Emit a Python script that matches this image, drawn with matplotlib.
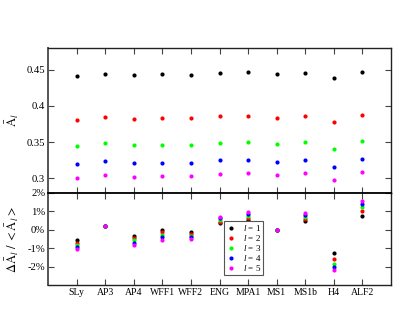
import matplotlib
matplotlib.use("Agg")
import matplotlib.pyplot as plt
from matplotlib.font_manager import FontProperties

plt.rcParams['font.family'] = ['Liberation Serif', 'DejaVu Serif']
plt.rcParams['mathtext.fontset'] = 'stix'
plt.rcParams['mathtext.rm'] = 'Liberation Serif'
plt.rcParams['mathtext.it'] = 'Liberation Serif:italic'

eos = ["SLy", "AP3", "AP4", "WFF1", "WFF2", "ENG", "MPA1", "MS1", "MS1b", "H4", "ALF2"]

# Upper panel: A_l for l = 1..5
A1 = [0.4412, 0.4444, 0.4420, 0.4435, 0.4430, 0.4454, 0.4463, 0.4435, 0.4458, 0.4379, 0.4468]
A2 = [0.3810, 0.3847, 0.3819, 0.3833, 0.3829, 0.3857, 0.3866, 0.3838, 0.3861, 0.3778, 0.3875]
A3 = [0.3444, 0.3482, 0.3454, 0.3463, 0.3463, 0.3491, 0.3500, 0.3472, 0.3500, 0.3407, 0.3514]
A4 = [0.3194, 0.3232, 0.3204, 0.3213, 0.3213, 0.3246, 0.3254, 0.3222, 0.3250, 0.3162, 0.3268]
A5 = [0.3009, 0.3051, 0.3018, 0.3028, 0.3028, 0.3065, 0.3074, 0.3046, 0.3069, 0.2977, 0.3088]

# Lower panel: relative deviation (%) for l = 1..5
D1 = [-0.57, 0.22, -0.32, -0.03, -0.14, 0.34, 0.52, 0.0, 0.47, -1.27, 0.72]
D2 = [-0.70, 0.22, -0.45, -0.15, -0.23, 0.43, 0.63, 0.0, 0.57, -1.61, 0.99]
D3 = [-0.82, 0.22, -0.57, -0.28, -0.32, 0.52, 0.75, 0.0, 0.68, -1.84, 1.20]
D4 = [-0.94, 0.22, -0.70, -0.42, -0.41, 0.61, 0.86, 0.0, 0.78, -2.02, 1.38]
D5 = [-1.05, 0.22, -0.82, -0.55, -0.50, 0.70, 0.97, 0.0, 0.88, -2.17, 1.56]

labels = [r"$l$ = 1", r"$l$ = 2", r"$l$ = 3", r"$l$ = 4", r"$l$ = 5"]
colors = ["#000000", "#ff0000", "#00ff00", "#0000ff", "#ff00ff"]

upper_ticks = [0.3, 0.35, 0.4, 0.45]
upper_ticklabels = ["0.3", "0.35", "0.4", "0.45"]
lower_ticks = [-2, -1, 0, 1, 2]
lower_ticklabels = ["-2%", "-1%", "0%", "1%", "2%"]

W, H = 415, 321
fig = plt.figure(figsize=(W / 100, H / 100), dpi=100)
L, R = 48 / W, 391 / W
top, mid, bot = 1 - 48 / H, 1 - 192.7 / H, 1 - 285 / H
ax1 = fig.add_axes([L, mid, R - L, top - mid])
ax2 = fig.add_axes([L, bot, R - L, mid - bot])

x = list(range(1, len(eos) + 1))

for vals, c in zip([A1, A2, A3, A4, A5], colors):
    ax1.plot(x, vals, linestyle="none", marker="o", ms=3.0, color=c, mec=c, mew=0)
for vals, c, lab in zip([D1, D2, D3, D4, D5], colors, labels):
    ax2.plot(x, vals, linestyle="none", marker="o", ms=3.0, color=c, mec=c, mew=0, label=lab)

for ax in (ax1, ax2):
    ax.set_xlim(0, 12)
    ax.set_xticks(x)
    ax.tick_params(direction="in", length=4, width=0.8, top=True, right=True,
                   color="#444444", pad=2)
    for s in ax.spines.values():
        s.set_linewidth(1.0)
        s.set_color("#222222")
    ax.spines['left'].set_linewidth(1.4)
    ax.spines['left'].set_color("#555555")

ax1.set_ylim(0.28, 0.48)
ax1.set_yticks(upper_ticks)
ax1.set_yticklabels(upper_ticklabels, fontsize=7.7)
ax1.tick_params(axis="x", labelbottom=False)
ax1.spines['bottom'].set_color("black")

ax2.set_ylim(-3, 2)
ax2.set_yticks(lower_ticks)
ax2.set_yticklabels(lower_ticklabels, fontsize=7.7)
ax2.set_xticklabels(eos, fontsize=7.0)
ax2.spines['top'].set_color("black")
ax2.spines['top'].set_linewidth(1.3)

fig.text(12 / W, 1 - 120 / H, r"$\bar{\mathrm{A}}_l$", rotation=90, ha="center", va="center", fontsize=9)
fig.text(12 / W, 1 - 240 / H, r"$\Delta\bar{\mathrm{A}}_l\ /\ <\bar{\mathrm{A}}_l>$", rotation=90,
         ha="center", va="center", fontsize=9)

legprop = FontProperties(family="Liberation Serif", size=6.5, math_fontfamily="custom")
leg = ax2.legend(loc="lower left", bbox_to_anchor=(0.514, 0.105), borderaxespad=0,
                 prop=legprop, labelspacing=0.0, handlelength=1.0, handletextpad=0.8,
                 borderpad=0.25, fancybox=False, framealpha=1, markerscale=1.0)
leg.get_frame().set_edgecolor("#555555")
leg.get_frame().set_linewidth(0.8)

fig.savefig("out.png", dpi=100)
